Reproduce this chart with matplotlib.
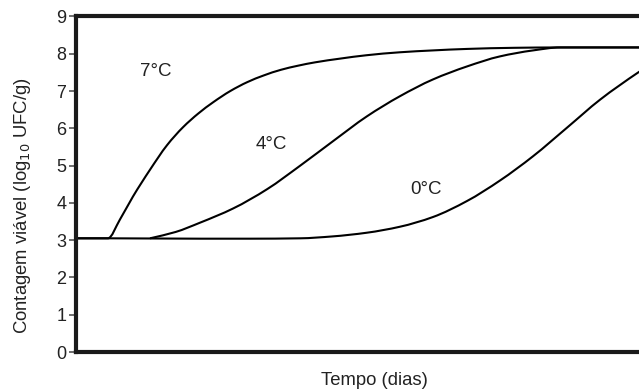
import matplotlib.pyplot as plt
from matplotlib.path import Path
from matplotlib.patches import PathPatch

plt.rcParams['font.family'] = ['Liberation Sans', 'DejaVu Sans']

# curves (x = relative time, y = log10 UFC/g)
x_7c = [0, 5.6, 7.7, 10.0, 13.0, 16.0, 18.8, 21.5, 24.1, 27.1, 30.1, 33.0, 36.0, 39.0, 42.0, 46.4, 51.0, 56.9, 62.7, 68.7, 77.0, 85.1, 100]
y_7c = [3.05, 3.05, 3.55, 4.17, 4.89, 5.55, 6.03, 6.40, 6.70, 7.00, 7.24, 7.42, 7.57, 7.68, 7.77, 7.87, 7.96, 8.04, 8.09, 8.13, 8.16, 8.17, 8.17]

x_4c = [13.0, 17.5, 21.8, 27.6, 33.6, 39.4, 45.2, 51.1, 56.9, 62.7, 68.7, 74.5, 80.3, 85.1, 100]
y_4c = [3.05, 3.22, 3.47, 3.85, 4.37, 5.00, 5.66, 6.32, 6.86, 7.31, 7.66, 7.93, 8.09, 8.17, 8.17]

x_0c = [0, 5.6, 21.8, 30.6, 39.4, 45.0, 51.1, 56.9, 62.7, 68.7, 74.5, 80.3, 86.3, 92.1, 98.8, 100]
y_0c = [3.05, 3.05, 3.04, 3.04, 3.05, 3.10, 3.20, 3.36, 3.62, 4.05, 4.60, 5.25, 6.02, 6.77, 7.50, 7.62]

labels = ["7°C", "4°C", "0°C"]
label_x = [14.0, 34.3, 61.5]
label_y = [7.53, 5.56, 4.35]


def smooth_path(xs, ys):
    # monotone cubic (pchip-like) bezier through the read points
    n = len(xs)
    h = [xs[i + 1] - xs[i] for i in range(n - 1)]
    s = [(ys[i + 1] - ys[i]) / h[i] for i in range(n - 1)]
    d = [0.0] * n
    d[0], d[-1] = s[0], s[-1]
    for i in range(1, n - 1):
        if s[i - 1] * s[i] > 0:
            w1 = 2 * h[i] + h[i - 1]
            w2 = h[i] + 2 * h[i - 1]
            d[i] = (w1 + w2) / (w1 / s[i - 1] + w2 / s[i])
    verts = [(xs[0], ys[0])]
    codes = [Path.MOVETO]
    for i in range(n - 1):
        verts += [(xs[i] + h[i] / 3, ys[i] + d[i] * h[i] / 3),
                  (xs[i + 1] - h[i] / 3, ys[i + 1] - d[i + 1] * h[i] / 3),
                  (xs[i + 1], ys[i + 1])]
        codes += [Path.CURVE4] * 3
    return Path(verts, codes)


fig = plt.figure(figsize=(6.39, 3.9), dpi=100)
ax = fig.add_axes([0.119, 0.0974, 0.8905, 0.8603])

for xs, ys in [(x_7c, y_7c), (x_4c, y_4c), (x_0c, y_0c)]:
    ax.add_patch(PathPatch(smooth_path(xs, ys), facecolor="none", edgecolor="black", linewidth=1.5))

for t, lx, ly in zip(labels, label_x, label_y):
    ax.text(lx, ly, t, fontsize=13.5, color="#222222", ha="center", va="center")

ax.set_xlim(0, 100)
ax.set_ylim(0, 9)
ax.set_yticks(range(0, 10))
ax.set_xticks([])
for s in ax.spines.values():
    s.set_linewidth(3)
    s.set_color("#1a1a1a")
ax.tick_params(axis="y", length=5, width=1.2, color="#555555", labelsize=13, labelcolor="#222222", pad=2)

ax.set_ylabel("Contagem viável (log$_{10}$ UFC/g)", fontsize=13.3, color="#222222")
ax.yaxis.set_label_coords(-0.076, 0.435)
ax.set_xlabel("Tempo (dias)", fontsize=13.3, color="#222222")
ax.xaxis.set_label_coords(0.525, -0.06)
ax.xaxis.label.set_va("top")

fig.savefig("out.png", dpi=100)
